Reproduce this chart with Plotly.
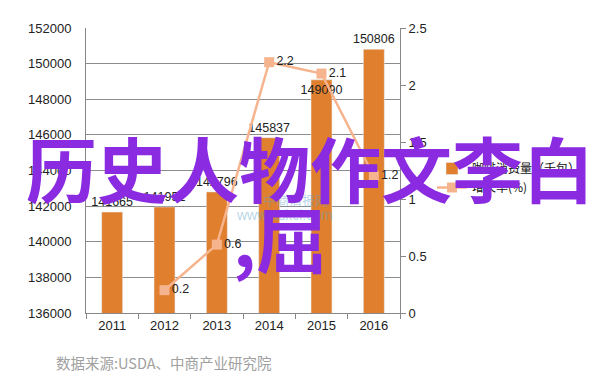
import plotly.graph_objects as go

years = ["2011", "2012", "2013", "2014", "2015", "2016"]
consumption = [141665, 141952, 142796, 145837, 149090, 150806]
growth_years = ["2012", "2013", "2014", "2015", "2016"]
growth = [0.2, 0.6, 2.2, 2.1, 1.2]
left_ticks = [136000, 138000, 140000, 142000, 144000, 146000, 148000, 150000, 152000]
right_ticks = [0, 0.5, 1, 1.5, 2, 2.5]

bar_color = "#E07F2E"
line_color = "#F6B48E"
font_main = "Liberation Sans, Arial, sans-serif"

# plot area in pixels
L, R, T, B = 86, 400, 28, 313


def px(xp):
    return (xp - L) / (R - L)


def py(yp):
    return (B - yp) / (B - T)


fig = go.Figure()
fig.add_trace(go.Bar(
    x=years, y=consumption, name="咖啡消费量（千包）",
    marker_color=bar_color, width=0.4,
    text=[str(v) for v in consumption],
    textposition=["outside", "outside", "outside", "outside", "inside", "outside"],
    insidetextanchor="end", textangle=0, constraintext="none", cliponaxis=False,
    textfont=dict(color="#222222", size=12.5, family=font_main),
    yaxis="y",
))
fig.add_trace(go.Scatter(
    x=growth_years, y=growth, name="增长率(%)",
    mode="lines+markers+text",
    line=dict(color=line_color, width=2.5),
    marker=dict(symbol="square", size=10, color=line_color),
    text=[str(v) for v in growth], textposition="middle right",
    textfont=dict(color="#222222", size=12.5, family=font_main),
    cliponaxis=False,
    yaxis="y2",
))

fig.update_layout(
    width=602, height=384,
    margin=dict(l=L, r=602 - R, t=T, b=384 - B),
    paper_bgcolor="white", plot_bgcolor="white",
    font=dict(family=font_main, size=13, color="#222222"),
    xaxis=dict(
        type="category", categoryorder="array", categoryarray=years,
        showline=True, linecolor="#888888", linewidth=1,
        ticks="outside", tickson="boundaries", ticklen=5, tickcolor="#888888",
        tickfont=dict(size=13, color="#222222"), showgrid=False,
    ),
    yaxis=dict(
        range=[136000, 152000], tickvals=left_ticks,
        ticktext=[str(v) for v in left_ticks],
        showline=True, linecolor="#888888", linewidth=1,
        showgrid=True, gridcolor="#8c8c8c", gridwidth=1,
        tickfont=dict(size=13, color="#222222"), zeroline=False,
        ticks="", ticklabelstandoff=11,
    ),
    yaxis2=dict(
        range=[0, 2.5], tickvals=right_ticks,
        ticktext=[str(v) for v in right_ticks],
        overlaying="y", side="right",
        showline=True, linecolor="#888888", linewidth=1,
        ticks="outside", ticklen=5, tickcolor="#888888",
        showgrid=False, zeroline=False,
        tickfont=dict(size=13, color="#222222"),
    ),
    legend=dict(
        x=px(432), y=py(154), xanchor="left", yanchor="top",
        font=dict(size=12, color="#111111", family="Noto Sans CJK SC"),
        bgcolor="rgba(0,0,0,0)", itemwidth=30, tracegroupgap=4,
    ),
    showlegend=True,
)

# faint watermark
fig.add_annotation(
    x=px(330), y=py(199), xref="paper", yref="paper",
    text="中商情报网", showarrow=False,
    font=dict(size=13, color="rgba(90,160,200,0.45)", family="Noto Sans CJK SC"),
)
fig.add_annotation(
    x=px(335), y=py(215), xref="paper", yref="paper",
    text="www.askci.com", showarrow=False,
    font=dict(size=14, color="rgba(90,160,200,0.45)", family=font_main),
)

# overlay title text
fig.add_annotation(
    x=px(310), y=py(166), xref="paper", yref="paper", text="历史人物作文李白",
    showarrow=False, xanchor="center", yanchor="middle",
    font=dict(size=71, color="#8A2BE2", family="Noto Sans CJK SC", weight="bold"),
)
fig.add_annotation(
    x=px(280), y=py(236), xref="paper", yref="paper", text=",屈",
    showarrow=False, xanchor="center", yanchor="middle",
    font=dict(size=71, color="#8A2BE2", family="Noto Sans CJK SC", weight="bold"),
)

# source footer
fig.add_annotation(
    x=px(54), y=py(362), xref="paper", yref="paper",
    text="数据来源:USDA、中商产业研究院", showarrow=False,
    xanchor="left", yanchor="middle",
    font=dict(size=14.5, color="#a0a0a0", family="Noto Sans CJK SC"),
)

fig.write_html("out.html", config={"displayModeBar": False},
               post_script="document.body.style.margin='0';")
